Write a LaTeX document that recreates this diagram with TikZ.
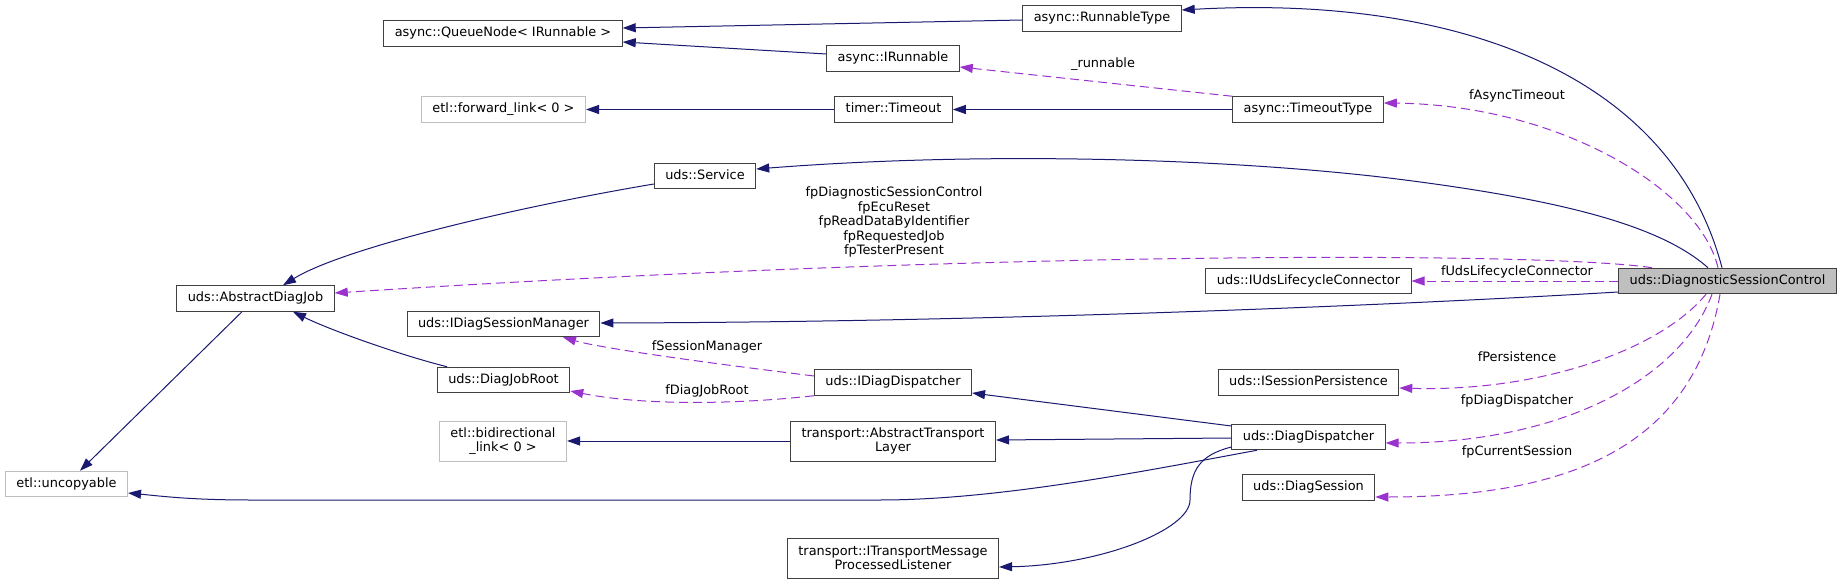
\documentclass[tikz,border=0pt]{standalone}
\usepackage{fontspec}
\setmainfont{DejaVu Sans}
\usepackage{tikz}
\usetikzlibrary{arrows.meta}
\definecolor{edgeblue}{HTML}{191970}
\definecolor{edgeorchid}{HTML}{9A32CD}
\definecolor{boxline}{HTML}{404040}
\definecolor{boxgrey}{HTML}{BFBFBF}

\begin{document}
\begin{tikzpicture}[x=1pt, y=-1pt, font=\fontsize{12.9}{14.5}\selectfont, >={Triangle[length=13pt,width=9pt]},
  cls/.style={draw=boxline, line width=1pt, fill=white, inner xsep=11pt, inner ysep=0pt, text height=9.6pt, text depth=2.8pt, minimum height=25.5pt},
  cls2/.style={draw=boxline, line width=1pt, fill=white, align=center, inner xsep=11pt, minimum height=40pt},
  ext/.style={draw=boxgrey},
  main/.style={fill=boxgrey},
  inh/.style={->, draw=edgeblue, line width=1pt},
  use/.style={->, draw=edgeorchid, line width=1pt, dash pattern=on 9pt off 5pt},
  lbl/.style={inner sep=0pt, align=center}]
\useasboundingbox (0,0) rectangle (1843,585);
% async classes
\node[cls] (qnode) at (503,33.5) {async::QueueNode< IRunnable >};
\node[cls] (rtype) at (1102,18.5) {async::RunnableType};
\node[cls] (irun) at (893,58.5) {async::IRunnable};
\node[cls, ext] (fwd) at (503.5,109.5) {etl::forward\_link< 0 >};
\node[cls] (tmo) at (893.5,109.5) {timer::Timeout};
\node[cls] (ttype) at (1308,109.5) {async::TimeoutType};
% uds classes
\node[cls] (svc) at (705,176) {uds::Service};
\node[cls] (adj) at (255.5,298.5) {uds::AbstractDiagJob};
\node[cls] (ulc) at (1308.5,281) {uds::IUdsLifecycleConnector};
\node[cls, main] (dsc) at (1727.5,281) {uds::DiagnosticSessionControl};
\node[cls] (dsm) at (503.5,324) {uds::IDiagSessionManager};
\node[cls] (djr) at (503.5,380) {uds::DiagJobRoot};
\node[cls] (idd) at (893,382.5) {uds::IDiagDispatcher};
\node[cls] (isp) at (1308.5,382.5) {uds::ISessionPersistence};
\node[cls] (dd) at (1308.5,437) {uds::DiagDispatcher};
\node[cls] (ds) at (1308.5,487.5) {uds::DiagSession};
% transport / etl
\node[cls2, ext] (bidi) at (503,441) {etl::bidirectional\\\_link< 0 >};
\node[cls2] (atl) at (893,441) {transport::AbstractTransport\\Layer};
\node[cls, ext] (unc) at (66.5,484) {etl::uncopyable};
\node[cls2] (tml) at (893,558) {transport::ITransportMessage\\ProcessedListener};
% member labels
\node[lbl] (lrun) at (1103,64) {\_runnable};
\node[lbl] (lasync) at (1517,96) {fAsyncTimeout};
\node[lbl] (ljobs) at (894,222) {fpDiagnosticSessionControl\\fpEcuReset\\fpReadDataByIdentifier\\fpRequestedJob\\fpTesterPresent};
\node[lbl] (lulc) at (1517,272) {fUdsLifecycleConnector};
\node[lbl] (lsm) at (707,347) {fSessionManager};
\node[lbl] (ldjr) at (707,391) {fDiagJobRoot};
\node[lbl] (lpers) at (1517,357) {fPersistence};
\node[lbl] (ldd) at (1517,401) {fpDiagDispatcher};
\node[lbl] (lcur) at (1517,452) {fpCurrentSession};
% inheritance
\foreach \a/\b in {tmo/fwd, ttype/tmo, atl/bidi} {\draw[inh] (\a) -- (\b);}
\draw[inh] ([yshift=-1.5pt]rtype.west) -- ([yshift=5.5pt]qnode.east);
\draw[inh] ([yshift=4.5pt]irun.west) -- ([yshift=-8.5pt]qnode.east);
\draw[inh] ([xshift=-5.5pt]dsc.north) .. controls (1670,70) and (1450,-5) .. ([yshift=8.5pt]rtype.east);
\draw[inh] ([xshift=-19.5pt]dsc.north) .. controls (1660,225) and (1560,200) .. (1405,180) .. controls (1250,160) and (1000,150) .. ([yshift=7pt]svc.east);
\draw[inh] ([yshift=-11pt]dsc.west) .. controls (1400,305) and (1000,322) .. ([yshift=1pt]dsm.east);
\draw[inh] ([yshift=-8pt]svc.west) .. controls (500,210) and (340,250) .. ([xshift=27.5pt]adj.north);
\draw[inh] ([xshift=-56.5pt]djr.north) .. controls (400,355) and (330,330) .. ([xshift=37.5pt]adj.south);
\draw[inh] ([xshift=-13.5pt]adj.south) -- ([xshift=13.5pt]unc.north);
\draw[inh] ([yshift=11pt]dd.west) -- ([yshift=-10.5pt]idd.east);
\draw[inh] ([yshift=-1pt]dd.west) -- ([yshift=1pt]atl.east);
\draw[inh] ([xshift=-51.5pt]dd.south) .. controls (1150,470) and (1000,500) .. (880,500) -- (250,500) .. controls (190,500) and (160,496) .. ([yshift=-9pt]unc.east);
\draw[inh] ([yshift=-10pt]dd.west) .. controls (1200,455) and (1190,470) .. (1190,500) .. controls (1190,530) and (1100,565) .. ([yshift=-9pt]tml.east);
% usage
\draw[use] (ttype.north west) -- ([yshift=-8.5pt]irun.east);
\draw[use] ([xshift=-9.5pt]dsc.north) .. controls (1700,190) and (1560,105) .. ([yshift=6.5pt]ttype.east);
\draw[use] ([xshift=-75.5pt]dsc.north) .. controls (1550,252) and (1000,250) .. ([yshift=5.5pt]adj.east);
\draw[use] (dsc) -- (ulc);
\draw[use] ([xshift=-21.5pt]dsc.south) .. controls (1660,350) and (1540,392) .. ([yshift=-5.5pt]isp.east);
\draw[use] ([xshift=-15.5pt]dsc.south) .. controls (1680,380) and (1560,443) .. ([yshift=-6pt]dd.east);
\draw[use] ([xshift=-7.5pt]dsc.south) .. controls (1695,440) and (1580,497) .. ([yshift=-9.5pt]ds.east);
\draw[use] ([yshift=6.5pt]idd.west) .. controls (700,362) and (600,348) .. ([xshift=59.5pt]dsm.south);
\draw[use] (idd.south west) .. controls (730,405) and (640,405) .. ([yshift=-11pt]djr.east);
\end{tikzpicture}
\end{document}
